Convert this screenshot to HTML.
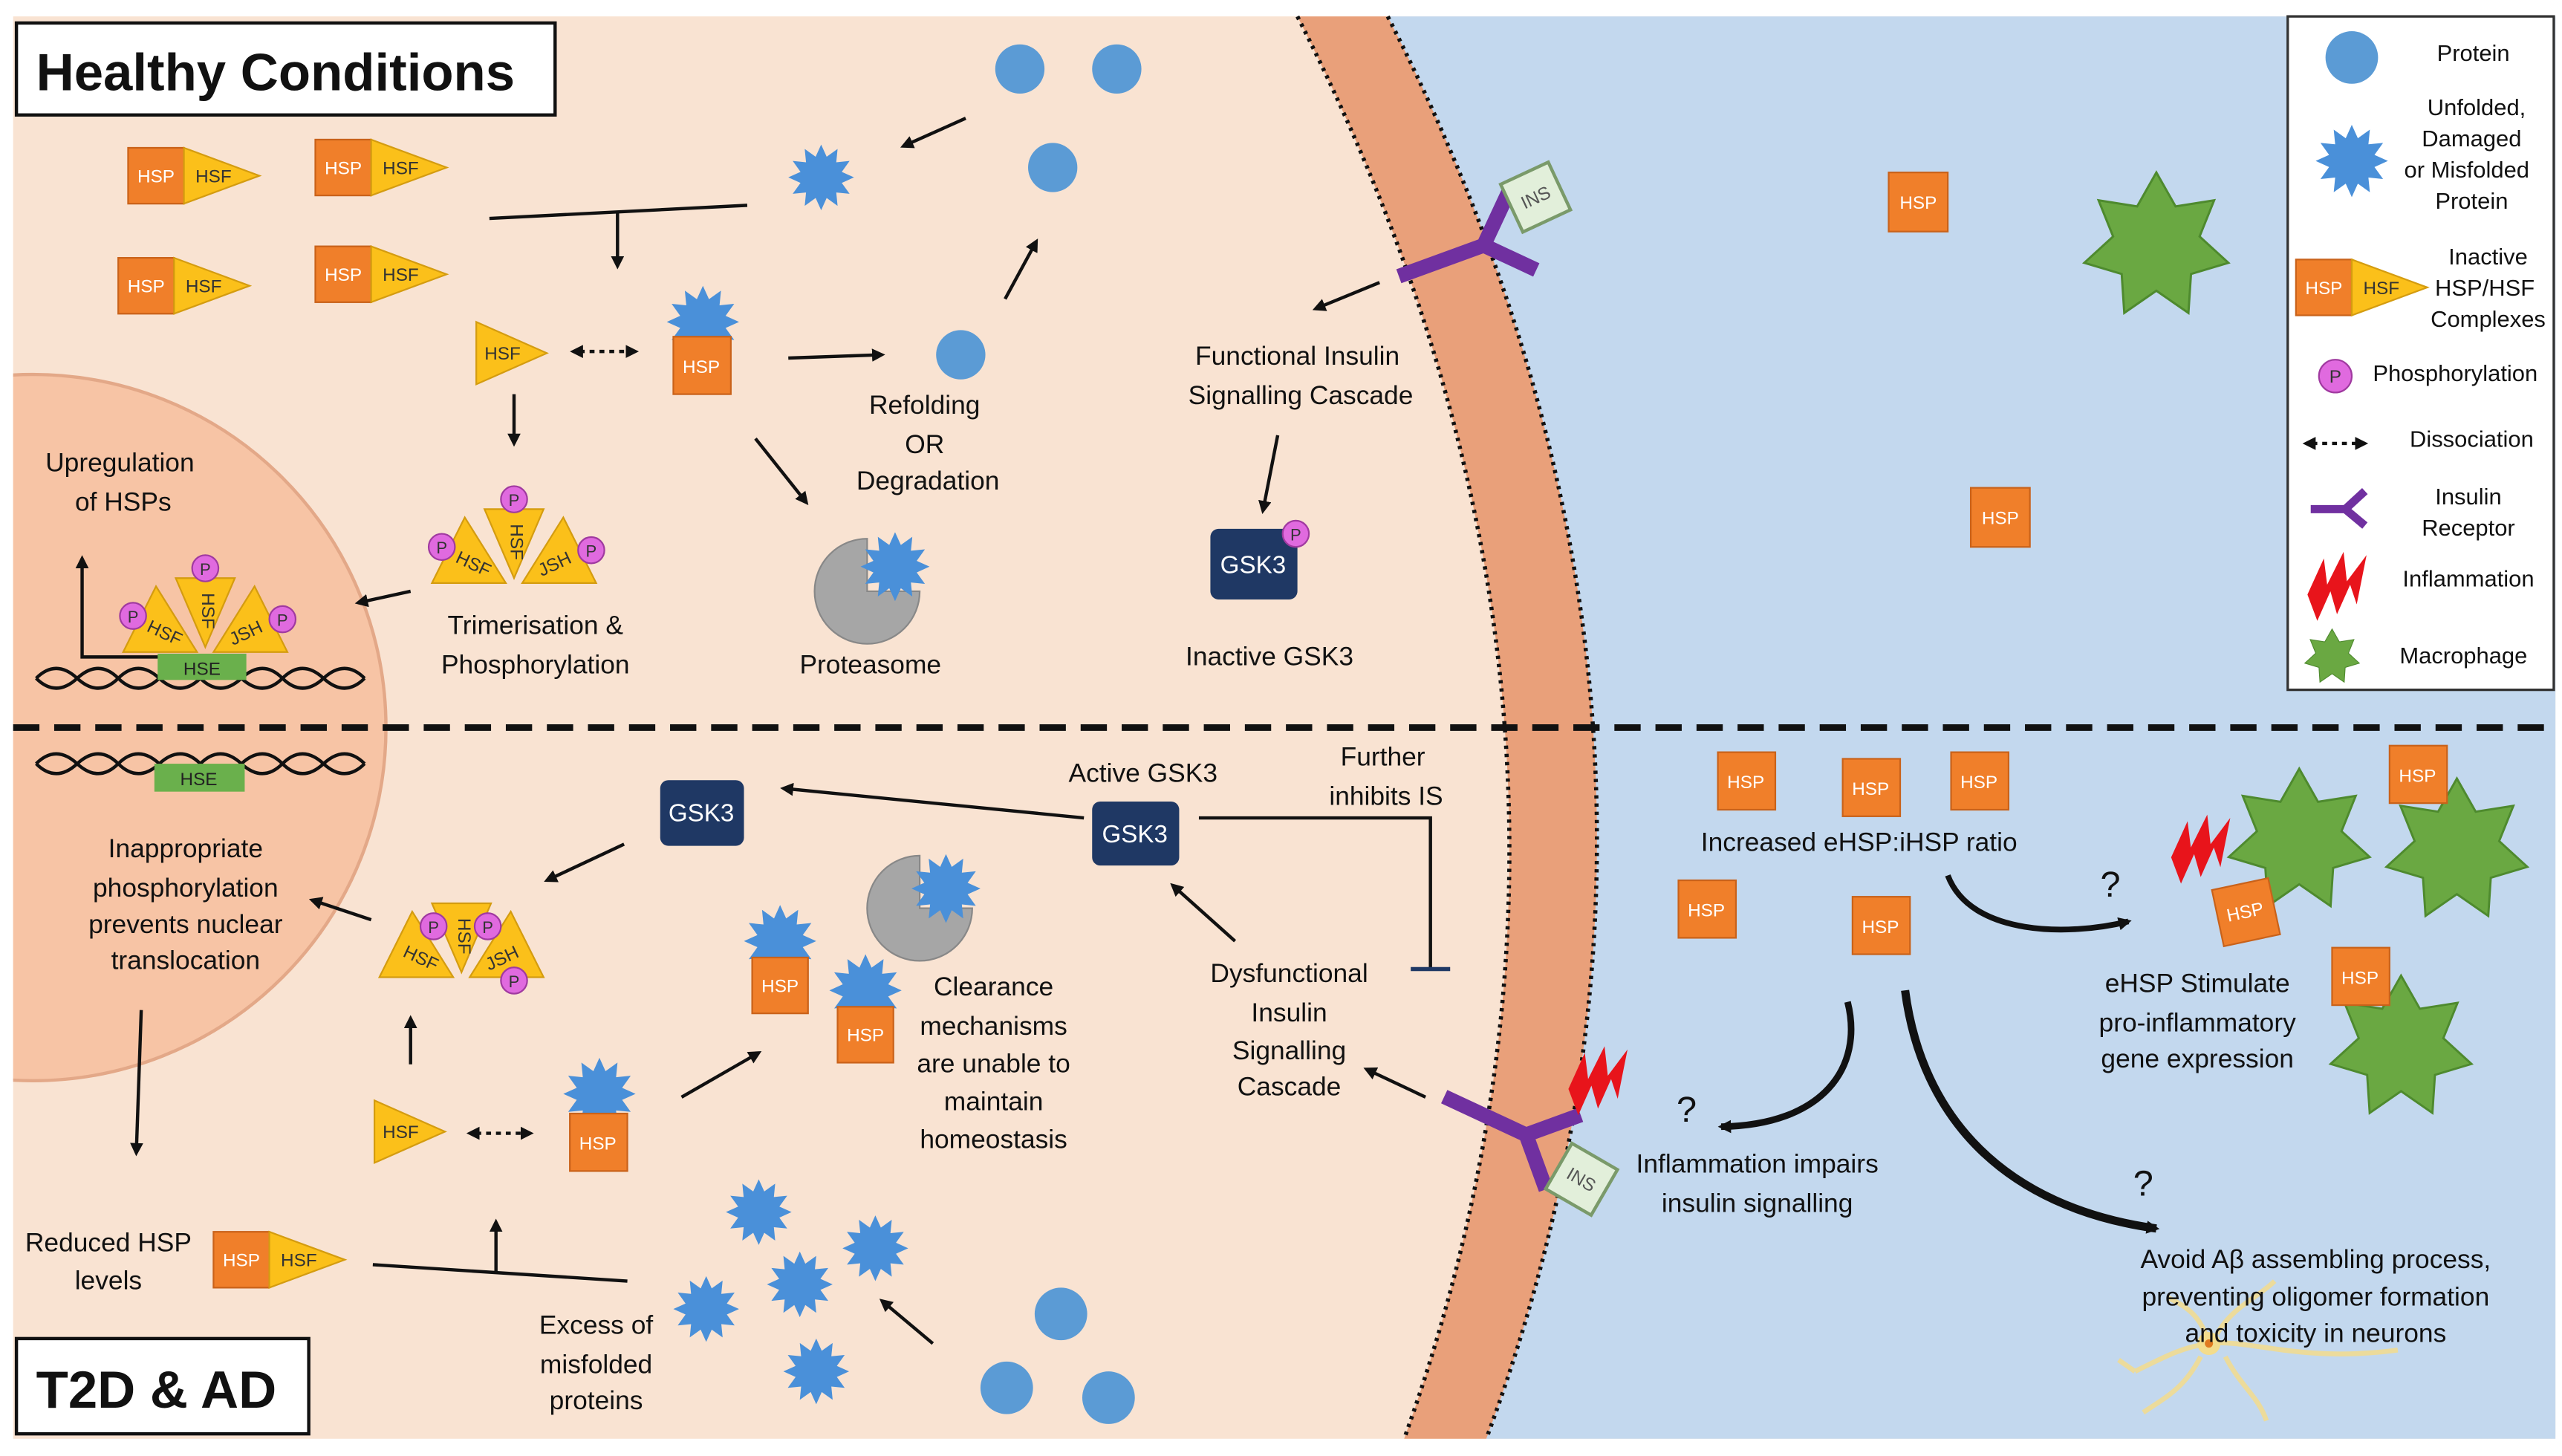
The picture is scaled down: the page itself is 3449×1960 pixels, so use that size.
<!DOCTYPE html>
<html><head><meta charset="utf-8"><style>
html,body{margin:0;padding:0;background:#fff;}
svg{display:block;}
text{font-family:"Liberation Sans",sans-serif;fill:#111;}
.t{font-size:16px;text-anchor:middle;}
.hs{font-size:11px;fill:#fff;text-anchor:middle;}
.hf{font-size:11px;fill:#333;text-anchor:middle;}
.a{stroke:#111;stroke-width:2;fill:none;marker-end:url(#ar);}
</style></head><body>
<svg width="3449" height="1960" viewBox="0 0 1560 886.5" preserveAspectRatio="none" xmlns="http://www.w3.org/2000/svg">
<defs>
<marker id="ar" markerWidth="8" markerHeight="8" refX="6" refY="4" orient="auto" markerUnits="userSpaceOnUse"><path d="M0,0 L8,4 L0,8 z" fill="#111"/></marker>
<marker id="ars" markerWidth="8" markerHeight="8" refX="2" refY="4" orient="auto-start-reverse" markerUnits="userSpaceOnUse"><path d="M0,0 L8,4 L0,8 z" fill="#111"/></marker>
<polygon id="star" fill="#4a90d9" points="1,0 .628,.168 .866,.5 .46,.46 .5,.866 .168,.628 0,1 -.168,.628 -.5,.866 -.46,.46 -.866,.5 -.628,.168 -1,0 -.628,-.168 -.866,-.5 -.46,-.46 -.5,-.866 -.168,-.628 0,-1 .168,-.628 .5,-.866 .46,-.46 .866,-.5 .628,-.168"/>
<polygon id="mac" fill="#6aa842" stroke="#4e8a2e" stroke-width=".03" points="0,-1 .26,-.541 .782,-.623 .585,-.134 .975,.223 .469,.374 .434,.901 0,.6 -.434,.901 -.469,.374 -.975,.223 -.585,-.134 -.782,-.623 -.26,-.541"/>
<path id="bolt" fill="#e8141b" d="M0,0 L10,-22 L12,-6 L22,-26 L24,-8 L36,-24 L30,6 L26,-6 L18,12 L14,-2 L6,16 Z"/>
</defs>
<rect width="1560" height="886.5" fill="#fff"/>
<rect x="8" y="10" width="1548" height="866" fill="#f9e3d2"/>
<path d="M845,10 Q1065,443 905,876 L1556,876 L1556,10 Z" fill="#c3d8ee"/>
<path d="M790,10 Q1010,443 855,876 L905,876 Q1065,443 845,10 Z" fill="#e9a07a"/>
<path d="M790,10 Q1010,443 855,876" fill="none" stroke="#111" stroke-width="2.5" stroke-dasharray="2,3"/>
<path d="M845,10 Q1065,443 905,876" fill="none" stroke="#111" stroke-width="2.5" stroke-dasharray="2,3"/>
<clipPath id="lc"><rect x="8" y="10" width="400" height="866"/></clipPath>
<circle cx="20" cy="443" r="215" fill="#f7c4a5" stroke="#e3a888" stroke-width="2" clip-path="url(#lc)"/>
<line x1="8" y1="443" x2="1556" y2="443" stroke="#111" stroke-width="4" stroke-dasharray="16,9"/>

<rect x="10" y="14" width="328" height="56" fill="#fff" stroke="#111" stroke-width="2"/>
<text x="22" y="55" style="font-size:32px;font-weight:bold">Healthy Conditions</text>
<rect x="10" y="815" width="178" height="58" fill="#fff" stroke="#111" stroke-width="2"/>
<text x="22" y="857" style="font-size:32px;font-weight:bold">T2D &amp; AD</text>

<g transform="translate(78,90)"><rect width="34" height="34" fill="#f07f2a" stroke="#c9621a"/><polygon points="34,0 80,17 34,34" fill="#fbc01a" stroke="#d49c10"/><text x="17" y="21" class="hs">HSP</text><text x="52" y="21" class="hf">HSF</text></g>
<g transform="translate(192,85)"><rect width="34" height="34" fill="#f07f2a" stroke="#c9621a"/><polygon points="34,0 80,17 34,34" fill="#fbc01a" stroke="#d49c10"/><text x="17" y="21" class="hs">HSP</text><text x="52" y="21" class="hf">HSF</text></g>
<g transform="translate(72,157)"><rect width="34" height="34" fill="#f07f2a" stroke="#c9621a"/><polygon points="34,0 80,17 34,34" fill="#fbc01a" stroke="#d49c10"/><text x="17" y="21" class="hs">HSP</text><text x="52" y="21" class="hf">HSF</text></g>
<g transform="translate(192,150)"><rect width="34" height="34" fill="#f07f2a" stroke="#c9621a"/><polygon points="34,0 80,17 34,34" fill="#fbc01a" stroke="#d49c10"/><text x="17" y="21" class="hs">HSP</text><text x="52" y="21" class="hf">HSF</text></g>

<circle cx="621" cy="42" r="15" fill="#5b9bd5"/><circle cx="680" cy="42" r="15" fill="#5b9bd5"/>
<circle cx="641" cy="102" r="15" fill="#5b9bd5"/><circle cx="585" cy="216" r="15" fill="#5b9bd5"/>
<line x1="588" y1="72" x2="550" y2="89" class="a"/>
<use href="#star" transform="translate(500,108) scale(20)"/>
<line x1="298" y1="133" x2="455" y2="125" stroke="#111" stroke-width="2"/>
<line x1="376" y1="129" x2="376" y2="162" class="a"/>
<g transform="translate(290,196)"><polygon points="0,0 43,19 0,38" fill="#fbc01a" stroke="#d49c10"/><text x="16" y="23" class="hf">HSF</text></g>
<line x1="353" y1="214" x2="387" y2="214" stroke="#111" stroke-width="2" stroke-dasharray="3,3" marker-start="url(#ars)" marker-end="url(#ar)"/>
<use href="#star" transform="translate(428,196) scale(22)"/>
<rect x="410" y="205" width="35" height="35" fill="#f07f2a" stroke="#c9621a"/><text x="427" y="227" class="hs">HSP</text>
<line x1="480" y1="218" x2="537" y2="216" class="a"/>
<line x1="612" y1="182" x2="631" y2="147" class="a"/>
<text x="563" y="252" class="t">Refolding</text><text x="563" y="276" class="t">OR</text><text x="565" y="298" class="t">Degradation</text>
<line x1="460" y1="267" x2="491" y2="306" class="a"/>
<path d="M528,360 L528,328 A32,32 0 1,0 560,360 Z" fill="#a6a6a6" stroke="#888"/>
<use href="#star" transform="translate(545,345) scale(21)"/>
<text x="530" y="410" class="t">Proteasome</text>
<line x1="313" y1="240" x2="313" y2="270" class="a"/>

<g transform="translate(313,330)">
<polygon points="-50,25 -30,-15 -5,25" fill="#fbc01a" stroke="#d49c10"/>
<polygon points="50,25 30,-15 5,25" fill="#fbc01a" stroke="#d49c10"/>
<polygon points="-18,-20 18,-20 0,22" fill="#fbc01a" stroke="#d49c10"/>
<text x="-25" y="17" class="hf" transform="rotate(25,-25,14)">HSF</text><text x="25" y="17" class="hf" transform="rotate(-25,25,14)">JSH</text><text x="0" y="2" class="hf" transform="rotate(90,0,0)">HSF</text>
<circle cx="0" cy="-26" r="8" fill="#e06adf" stroke="#a03aa0"/><text x="0" y="-22" class="hf" style="font-size:10px">P</text>
<circle cx="-44" cy="3" r="8" fill="#e06adf" stroke="#a03aa0"/><text x="-44" y="7" class="hf" style="font-size:10px">P</text>
<circle cx="47" cy="5" r="8" fill="#e06adf" stroke="#a03aa0"/><text x="47" y="9" class="hf" style="font-size:10px">P</text>
</g>
<text x="326" y="386" class="t">Trimerisation &amp;</text><text x="326" y="410" class="t">Phosphorylation</text>
<line x1="250" y1="360" x2="218" y2="367" class="a"/>

<text x="73" y="287" class="t">Upregulation</text><text x="75" y="311" class="t">of HSPs</text>
<polyline points="100,400 50,400 50,340" class="a"/>
<g stroke="#111" stroke-width="2" fill="none">
<path d="M22,413 q12,-12 25,0 t25,0 t25,0 t25,0 t25,0 t25,0 t25,0 t25,0"/>
<path d="M22,413 q12,12 25,0 t25,0 t25,0 t25,0 t25,0 t25,0 t25,0 t25,0"/>
<path d="M22,465 q12,-12 25,0 t25,0 t25,0 t25,0 t25,0 t25,0 t25,0 t25,0"/>
<path d="M22,465 q12,12 25,0 t25,0 t25,0 t25,0 t25,0 t25,0 t25,0 t25,0"/>
</g>
<rect x="96" y="398" width="54" height="16" fill="#6ab04c"/><text x="123" y="411" class="hf" style="fill:#222">HSE</text>
<rect x="94" y="465" width="55" height="17" fill="#6ab04c"/><text x="121" y="478" class="hf" style="fill:#222">HSE</text>
<g transform="translate(125,372)">
<polygon points="-50,25 -30,-15 -5,25" fill="#fbc01a" stroke="#d49c10"/>
<polygon points="50,25 30,-15 5,25" fill="#fbc01a" stroke="#d49c10"/>
<polygon points="-18,-20 18,-20 0,22" fill="#fbc01a" stroke="#d49c10"/>
<text x="-25" y="17" class="hf" transform="rotate(25,-25,14)">HSF</text><text x="25" y="17" class="hf" transform="rotate(-25,25,14)">JSH</text><text x="0" y="2" class="hf" transform="rotate(90,0,0)">HSF</text>
<circle cx="0" cy="-26" r="8" fill="#e06adf" stroke="#a03aa0"/><text x="0" y="-22" class="hf" style="font-size:10px">P</text>
<circle cx="-44" cy="3" r="8" fill="#e06adf" stroke="#a03aa0"/><text x="-44" y="7" class="hf" style="font-size:10px">P</text>
<circle cx="47" cy="5" r="8" fill="#e06adf" stroke="#a03aa0"/><text x="47" y="9" class="hf" style="font-size:10px">P</text>
</g>

<g transform="translate(900,140) rotate(-20)">
<path d="M-55,10 L0,10 L25,35 M0,10 L25,-15" stroke="#7030a0" stroke-width="9" fill="none"/>
</g>
<g transform="translate(935,120) rotate(-25)"><rect x="-16" y="-16" width="32" height="32" fill="#e2efda" stroke="#7a9a6a" stroke-width="2"/><text x="0" y="4" class="hf" style="font-size:11px;fill:#555">INS</text></g>
<line x1="840" y1="172" x2="801" y2="188" class="a"/>
<text x="790" y="222" class="t">Functional Insulin</text><text x="792" y="246" class="t">Signalling Cascade</text>
<line x1="778" y1="265" x2="769" y2="311" class="a"/>
<rect x="737" y="322" width="53" height="43" rx="5" fill="#1f3864"/><text x="763" y="349" class="t" style="fill:#fff;font-size:15px">GSK3</text>
<circle cx="789" cy="325" r="8" fill="#e06adf" stroke="#a03aa0"/><text x="789" y="329" class="hf" style="font-size:10px">P</text>
<text x="773" y="405" class="t">Inactive GSK3</text>

<rect x="1150" y="105" width="36" height="36" fill="#f07f2a" stroke="#c9621a"/><text x="1168" y="127" class="hs">HSP</text>
<rect x="1200" y="297" width="36" height="36" fill="#f07f2a" stroke="#c9621a"/><text x="1218" y="319" class="hs">HSP</text>
<use href="#mac" transform="translate(1313,150) scale(45)"/>

<rect x="1393" y="10" width="162" height="410" fill="#fff" stroke="#333" stroke-width="1.5"/>
<circle cx="1432" cy="35" r="16" fill="#5b9bd5"/><text x="1506" y="37" class="t" style="font-size:14px">Protein</text>
<use href="#star" transform="translate(1432,98) scale(22)"/>
<text x="1508" y="70" class="t" style="font-size:14px">Unfolded,</text><text x="1505" y="89" class="t" style="font-size:14px">Damaged</text><text x="1502" y="108" class="t" style="font-size:14px">or  Misfolded</text><text x="1505" y="127" class="t" style="font-size:14px">Protein</text>
<g transform="translate(1398,158)"><rect width="34" height="34" fill="#f07f2a" stroke="#c9621a"/><polygon points="34,0 80,17 34,34" fill="#fbc01a" stroke="#d49c10"/><text x="17" y="21" class="hs">HSP</text><text x="52" y="21" class="hf">HSF</text></g>
<text x="1515" y="161" class="t" style="font-size:14px">Inactive</text><text x="1513" y="180" class="t" style="font-size:14px">HSP/HSF</text><text x="1515" y="199" class="t" style="font-size:14px">Complexes</text>
<circle cx="1422" cy="229" r="10" fill="#e06adf" stroke="#a03aa0"/><text x="1422" y="233" class="hf">P</text>
<text x="1495" y="232" class="t" style="font-size:14px">Phosphorylation</text>
<line x1="1408" y1="270" x2="1440" y2="270" stroke="#111" stroke-width="2" stroke-dasharray="3,3" marker-start="url(#ars)" marker-end="url(#ar)"/>
<text x="1505" y="272" class="t" style="font-size:14px">Dissociation</text>
<path d="M1407,310 L1428,310 L1440,320 M1428,310 L1440,299" stroke="#7030a0" stroke-width="5" fill="none"/>
<text x="1503" y="307" class="t" style="font-size:14px">Insulin</text><text x="1503" y="326" class="t" style="font-size:14px">Receptor</text>
<use href="#bolt" transform="translate(1405,362)"/>
<text x="1503" y="357" class="t" style="font-size:14px">Inflammation</text>
<use href="#mac" transform="translate(1420,400) scale(17)"/>
<text x="1500" y="404" class="t" style="font-size:14px">Macrophage</text>

<text x="113" y="522" class="t">Inappropriate</text><text x="113" y="546" class="t">phosphorylation</text><text x="113" y="568" class="t">prevents nuclear</text><text x="113" y="590" class="t">translocation</text>
<line x1="86" y1="615" x2="83" y2="702" class="a"/>
<text x="66" y="762" class="t">Reduced HSP</text><text x="66" y="785" class="t">levels</text>
<g transform="translate(130,750)"><rect width="34" height="34" fill="#f07f2a" stroke="#c9621a"/><polygon points="34,0 80,17 34,34" fill="#fbc01a" stroke="#d49c10"/><text x="17" y="21" class="hs">HSP</text><text x="52" y="21" class="hf">HSF</text></g>
<line x1="227" y1="770" x2="382" y2="780" stroke="#111" stroke-width="2"/>
<line x1="302" y1="775" x2="302" y2="744" class="a"/>
<text x="363" y="812" class="t">Excess of</text><text x="363" y="836" class="t">misfolded</text><text x="363" y="858" class="t">proteins</text>
<use href="#star" transform="translate(462,738) scale(20)"/><use href="#star" transform="translate(533,760) scale(20)"/>
<use href="#star" transform="translate(430,797) scale(20)"/><use href="#star" transform="translate(487,782) scale(20)"/>
<use href="#star" transform="translate(497,835) scale(20)"/>
<line x1="568" y1="818" x2="537" y2="792" class="a"/>
<circle cx="646" cy="800" r="16" fill="#5b9bd5"/><circle cx="613" cy="845" r="16" fill="#5b9bd5"/><circle cx="675" cy="851" r="16" fill="#5b9bd5"/>
<g transform="translate(228,670)"><polygon points="0,0 43,19 0,38" fill="#fbc01a" stroke="#d49c10"/><text x="16" y="23" class="hf">HSF</text></g>
<line x1="290" y1="690" x2="323" y2="690" stroke="#111" stroke-width="2" stroke-dasharray="3,3" marker-start="url(#ars)" marker-end="url(#ar)"/>
<use href="#star" transform="translate(365,666) scale(22)"/>
<rect x="347" y="678" width="35" height="35" fill="#f07f2a" stroke="#c9621a"/><text x="364" y="700" class="hs">HSP</text>
<line x1="250" y1="648" x2="250" y2="620" class="a"/>
<g transform="translate(281,570)">
<polygon points="-50,25 -30,-15 -5,25" fill="#fbc01a" stroke="#d49c10"/>
<polygon points="50,25 30,-15 5,25" fill="#fbc01a" stroke="#d49c10"/>
<polygon points="-18,-20 18,-20 0,22" fill="#fbc01a" stroke="#d49c10"/>
<text x="-25" y="17" class="hf" transform="rotate(25,-25,14)">HSF</text><text x="25" y="17" class="hf" transform="rotate(-25,25,14)">JSH</text><text x="0" y="2" class="hf" transform="rotate(90,0,0)">HSF</text>
<circle cx="-17" cy="-6" r="8" fill="#e06adf" stroke="#a03aa0"/><text x="-17" y="-2" class="hf" style="font-size:10px">P</text>
<circle cx="16" cy="-6" r="8" fill="#e06adf" stroke="#a03aa0"/><text x="16" y="-2" class="hf" style="font-size:10px">P</text>
<circle cx="32" cy="27" r="8" fill="#e06adf" stroke="#a03aa0"/><text x="32" y="31" class="hf" style="font-size:10px">P</text>
</g>
<line x1="226" y1="560" x2="190" y2="548" class="a"/>
<line x1="380" y1="514" x2="333" y2="536" class="a"/>
<rect x="402" y="475" width="51" height="40" rx="5" fill="#1f3864"/><text x="427" y="500" class="t" style="fill:#fff;font-size:15px">GSK3</text>
<line x1="660" y1="498" x2="477" y2="480" class="a"/>
<rect x="665" y="488" width="53" height="39" rx="5" fill="#1f3864"/><text x="691" y="513" class="t" style="fill:#fff;font-size:15px">GSK3</text>
<text x="696" y="476" class="t">Active GSK3</text>
<text x="842" y="466" class="t">Further</text><text x="844" y="490" class="t">inhibits IS</text>
<polyline points="730,498 871,498 871,590" stroke="#111" stroke-width="2" fill="none"/>
<line x1="859" y1="590" x2="883" y2="590" stroke="#1f3864" stroke-width="2.5"/>
<line x1="752" y1="573" x2="714" y2="539" class="a"/>
<text x="785" y="598" class="t">Dysfunctional</text><text x="785" y="622" class="t">Insulin</text><text x="785" y="645" class="t">Signalling</text><text x="785" y="667" class="t">Cascade</text>
<line x1="868" y1="668" x2="832" y2="651" class="a"/>
<path d="M560,553 L560,521 A32,32 0 1,0 592,553 Z" fill="#a6a6a6" stroke="#888"/>
<use href="#star" transform="translate(576,541) scale(21)"/>
<use href="#star" transform="translate(475,573) scale(22)"/>
<rect x="458" y="583" width="34" height="34" fill="#f07f2a" stroke="#c9621a"/><text x="475" y="604" class="hs">HSP</text>
<use href="#star" transform="translate(527,603) scale(22)"/>
<rect x="510" y="613" width="34" height="34" fill="#f07f2a" stroke="#c9621a"/><text x="527" y="634" class="hs">HSP</text>
<line x1="415" y1="668" x2="462" y2="641" class="a"/>
<text x="605" y="606" class="t">Clearance</text><text x="605" y="630" class="t">mechanisms</text><text x="605" y="653" class="t">are unable to</text><text x="605" y="676" class="t">maintain</text><text x="605" y="699" class="t">homeostasis</text>

<g transform="translate(925,700) rotate(25)">
<path d="M-55,-10 L0,-10 L25,-35 M0,-10 L25,15" stroke="#7030a0" stroke-width="9" fill="none"/>
</g>
<g transform="translate(963,718) rotate(30)"><rect x="-16" y="-16" width="32" height="32" fill="#e2efda" stroke="#7a9a6a" stroke-width="2"/><text x="0" y="4" class="hf" style="font-size:11px;fill:#555">INS</text></g>
<use href="#bolt" transform="translate(955,663)"/>
<text x="1027" y="683" class="t" style="font-size:22px">?</text>
<path d="M1125,610 C1135,650 1110,685 1048,686" stroke="#111" stroke-width="4" fill="none" marker-end="url(#ar)"/>
<text x="1070" y="714" class="t">Inflammation impairs</text><text x="1070" y="738" class="t">insulin signalling</text>

<rect x="1046" y="458" width="35" height="35" fill="#f07f2a" stroke="#c9621a"/><text x="1063" y="480" class="hs">HSP</text>
<rect x="1122" y="462" width="35" height="35" fill="#f07f2a" stroke="#c9621a"/><text x="1139" y="484" class="hs">HSP</text>
<rect x="1188" y="458" width="35" height="35" fill="#f07f2a" stroke="#c9621a"/><text x="1205" y="480" class="hs">HSP</text>
<rect x="1022" y="536" width="35" height="35" fill="#f07f2a" stroke="#c9621a"/><text x="1039" y="558" class="hs">HSP</text>
<rect x="1128" y="546" width="35" height="35" fill="#f07f2a" stroke="#c9621a"/><text x="1145" y="568" class="hs">HSP</text>
<text x="1132" y="518" class="t">Increased eHSP:iHSP ratio</text>
<path d="M1186,533 C1200,570 1260,570 1296,561" stroke="#111" stroke-width="3.5" fill="none" marker-end="url(#ar)"/>
<text x="1285" y="546" class="t" style="font-size:22px">?</text>
<use href="#bolt" transform="translate(1322,522)"/>
<use href="#mac" transform="translate(1400,512) scale(44)"/>
<use href="#mac" transform="translate(1496,518) scale(44)"/>
<use href="#mac" transform="translate(1462,638) scale(44)"/>
<rect x="1455" y="454" width="35" height="35" fill="#f07f2a" stroke="#c9621a"/><text x="1472" y="476" class="hs">HSP</text>
<g transform="translate(1367,555) rotate(-12)"><rect x="-17" y="-17" width="35" height="35" fill="#f07f2a" stroke="#c9621a"/><text x="0" y="4" class="hs">HSP</text></g>
<rect x="1420" y="577" width="35" height="35" fill="#f07f2a" stroke="#c9621a"/><text x="1437" y="599" class="hs">HSP</text>
<text x="1338" y="604" class="t">eHSP Stimulate</text><text x="1338" y="628" class="t">pro-inflammatory</text><text x="1338" y="650" class="t">gene expression</text>
<path d="M1160,603 C1170,680 1220,735 1313,748" stroke="#111" stroke-width="5" fill="none" marker-end="url(#ar)"/>
<text x="1305" y="728" class="t" style="font-size:22px">?</text>
<g stroke="#f3dc8c" stroke-width="3" fill="none" opacity=".85">
<path d="M1300,835 C1320,825 1330,820 1345,818 C1370,815 1400,830 1460,822 M1345,818 C1340,800 1330,795 1320,790 M1350,812 C1360,795 1375,790 1385,780 M1340,826 C1330,845 1320,850 1305,860 M1355,826 C1365,845 1375,850 1380,865 M1300,835 L1290,828"/>
</g>
<circle cx="1345" cy="818" r="7" fill="#f3dc8c"/><circle cx="1345" cy="818" r="2.5" fill="#e07a20"/>
<text x="1410" y="772" class="t">Avoid Aβ assembling process,</text><text x="1410" y="795" class="t">preventing oligomer formation</text><text x="1410" y="817" class="t">and toxicity in neurons</text>
</svg>
</body></html>
